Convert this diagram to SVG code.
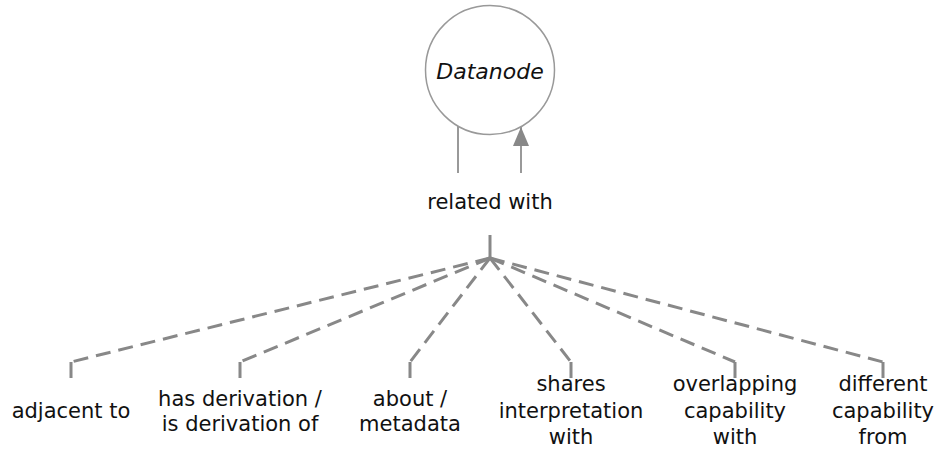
<svg xmlns="http://www.w3.org/2000/svg" width="936" height="449" viewBox="0 0 936 449">
<style>
text{font-family:"DejaVu Sans","Liberation Sans",sans-serif;font-size:21px;fill:#111;text-anchor:middle}
.n{fill:#fff;stroke:#999;stroke-width:1.5}
.thin{stroke:#999;stroke-width:2;fill:none}
.dash{stroke:#888;stroke-width:3;fill:none;stroke-dasharray:15 8}
.tick{stroke:#888;stroke-width:3;fill:none}
</style>
<defs>
<marker id="ah" viewBox="0 0 19 16" refX="19" refY="8" markerWidth="19" markerHeight="16" markerUnits="userSpaceOnUse" orient="auto"><path d="M0,0 L19,8 L0,16 z" fill="#888"/></marker>
</defs>
<g id="datanode">
<circle class="n" cx="490" cy="70" r="64.5"/>
<text x="490" y="79" font-style="italic" style="font-size:22px">Datanode</text>
</g>
<g id="connectors">
<line class="thin" x1="458" y1="126" x2="458" y2="173"/>
<line class="thin" x1="521" y1="173" x2="521" y2="127" marker-end="url(#ah)"/>
<line class="tick" x1="490" y1="235" x2="490" y2="258"/>
<path class="dash" d="M490,258 L71,362"/>
<path class="dash" d="M490,258 L240,362"/>
<path class="dash" d="M490,258 L410,362"/>
<path class="dash" d="M490,258 L571,362"/>
<path class="dash" d="M490,258 L735,362"/>
<path class="dash" d="M490,258 L883,362"/>
<path class="tick" d="M71,362 V378 M240,362 V378 M410,362 V378 M571,362 V378 M735,362 V378 M883,362 V378"/>
</g>
<g id="related-with"><text x="490" y="209">related with</text></g>
<g id="adjacent-to"><text x="71" y="418">adjacent to</text></g>
<g id="has-derivation"><text x="240" y="406">has derivation /</text><text x="240" y="431">is derivation of</text></g>
<g id="about-metadata"><text x="410" y="406">about /</text><text x="410" y="431">metadata</text></g>
<g id="shares-interpretation"><text x="571" y="391">shares</text><text x="571" y="418">interpretation</text><text x="571" y="444">with</text></g>
<g id="overlapping-capability"><text x="735" y="391">overlapping</text><text x="735" y="418">capability</text><text x="735" y="444">with</text></g>
<g id="different-capability"><text x="883" y="391">different</text><text x="883" y="418">capability</text><text x="883" y="444">from</text></g>
</svg>
